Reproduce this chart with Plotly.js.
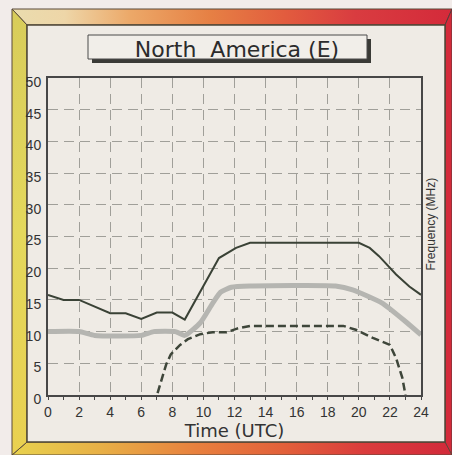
<!DOCTYPE html>
<html>
<head>
<meta charset="utf-8">
<script src="https://cdn.plot.ly/plotly-3.0.1.min.js"></script>
<style>
  html, body { margin: 0; padding: 0; background: #f2ecea; }
  #wrap { position: relative; width: 452px; height: 455px; overflow: hidden; }
  #frame { position: absolute; left: 0; top: 0; }
  #chart { position: absolute; left: 0; top: 0; width: 452px; height: 455px; }
</style>
</head>
<body>
<div id="wrap">
<svg id="frame" width="452" height="455" xmlns="http://www.w3.org/2000/svg">
  <defs>
    <linearGradient id="gTop" x1="0" x2="1" y1="0" y2="0">
      <stop offset="0" stop-color="#eadcae"/>
      <stop offset="0.12" stop-color="#eed6a8"/>
      <stop offset="0.27" stop-color="#eca868"/>
      <stop offset="0.45" stop-color="#e68044"/>
      <stop offset="0.62" stop-color="#e25c3e"/>
      <stop offset="0.78" stop-color="#d93c40"/>
      <stop offset="1" stop-color="#d42a3a"/>
    </linearGradient>
    <linearGradient id="gBottom" x1="0" x2="1" y1="0" y2="0">
      <stop offset="0" stop-color="#e8d24e"/>
      <stop offset="0.2" stop-color="#e8b046"/>
      <stop offset="0.42" stop-color="#e8803e"/>
      <stop offset="0.62" stop-color="#e2603a"/>
      <stop offset="0.8" stop-color="#da3c3c"/>
      <stop offset="1" stop-color="#d22a3a"/>
    </linearGradient>
    <linearGradient id="gLeft" x1="0" x2="0" y1="0" y2="1">
      <stop offset="0" stop-color="#d8cc5a"/>
      <stop offset="0.5" stop-color="#e4d85c"/>
      <stop offset="1" stop-color="#e9d050"/>
    </linearGradient>
  </defs>
  <rect x="0" y="0" width="452" height="455" fill="#f2ecea"/>
  <polygon points="12,9 452,9 445,25 27,25" fill="url(#gTop)" stroke="#5a4a3a" stroke-width="1"/>
  <polygon points="452,9 452,460 445,442 445,25" fill="#d42a3a" stroke="#5a3a3a" stroke-width="1"/>
  <polygon points="12,455 27,442 445,442 452,455" fill="url(#gBottom)" stroke="#5a4a3a" stroke-width="1"/>
  <polygon points="12,9 27,25 27,442 12,455" fill="url(#gLeft)" stroke="#5a4a3a" stroke-width="1"/>
  <rect x="27" y="25" width="418" height="417" fill="#efebe5" stroke="#4d4636" stroke-width="1.5"/>
</svg>
<div id="chart"></div>
</div>
<script>
// ---- data ----
const xTicks = [0, 2, 4, 6, 8, 10, 12, 14, 16, 18, 20, 22, 24];
const yTicks = [0, 5, 10, 15, 20, 25, 30, 35, 40, 45, 50];

// upper solid line
const upperTime = [0, 1, 2, 4, 5, 6, 7, 8, 8.8, 11, 12.1, 13, 20, 20.7, 21.3, 22.4, 23.25, 24];
const upperFreq = [15.8, 15, 15, 12.9, 12.9, 12, 13, 13, 11.9, 21.6, 23.2, 24, 24, 23.2, 21.9, 19, 17.1, 15.8];

// middle thick grey line
const middleTime = [0, 2, 3, 6, 6.8, 8.2, 8.8, 9.8, 10.6, 11.1, 11.8, 13, 18.5, 19.6, 21.5, 23, 24];
const middleFreq = [10, 10, 9.4, 9.4, 10, 10, 9.4, 11.4, 14.5, 16.2, 17.0, 17.2, 17.2, 16.6, 14.5, 11.6, 9.5];

// lower dashed line
const lowerTime = [7.05, 7.6, 7.9, 8.5, 9.0, 9.8, 10.6, 11.5, 12.2, 13, 19, 19.8, 20.9, 22, 22.4, 22.8, 23];
const lowerFreq = [0.3, 4.8, 6.4, 7.9, 8.8, 9.6, 9.9, 9.9, 10.5, 10.9, 10.9, 10.3, 9.0, 7.9, 5.8, 2.7, 0];

const titleText = 'North\u00a0 America (E)';
const xTitle = 'Time (UTC)';
const yTitle = 'Frequency (MHz)';

// ---- geometry (pixels) ----
const W = 452, H = 455;
const PL = 48, PR = 421, PT = 78, PB = 395;
const pw = PR - PL, ph = PB - PT;
const px = v => (v - PL) / pw;
const py = v => (PB - v) / ph;

const traces = [
  { x: middleTime, y: middleFreq, mode: 'lines', type: 'scatter',
    line: { color: '#b5b5b1', width: 5, shape: 'spline', smoothing: 0.5 }, hoverinfo: 'skip' },
  { x: upperTime, y: upperFreq, mode: 'lines', type: 'scatter',
    line: { color: '#3a4236', width: 2 }, hoverinfo: 'skip' },
  { x: lowerTime, y: lowerFreq, mode: 'lines', type: 'scatter',
    line: { color: '#3e463a', width: 2.5, dash: '8px,4px' }, hoverinfo: 'skip' }
];

const axisCommon = {
  showgrid: true, gridcolor: '#a09f99', gridwidth: 1, griddash: '10px,6px',
  showline: true, mirror: true, linecolor: '#474747', linewidth: 2,
  zeroline: false, fixedrange: true,
  tickfont: { family: 'Liberation Sans, Arial, sans-serif', size: 14, color: '#333333' }
};

const layout = {
  width: W, height: H,
  margin: { l: PL, r: W - PR, t: PT, b: H - PB, pad: 0 },
  paper_bgcolor: 'rgba(0,0,0,0)',
  plot_bgcolor: '#efebe5',
  showlegend: false,
  title: {
    text: titleText, xref: 'container', yref: 'container',
    x: 237 / W, y: 1 - 49 / H, xanchor: 'center', yanchor: 'middle',
    font: { family: 'DejaVu Sans, sans-serif', size: 22, color: '#2b2b2b' }
  },
  xaxis: Object.assign({}, axisCommon, {
    range: [0, 24], tickvals: xTicks, ticktext: xTicks.map(String),
    ticks: 'outside', ticklen: 3, tickcolor: '#474747', tickwidth: 1,
    minor: { dtick: 1, tick0: 0, ticks: 'outside', ticklen: 3, tickcolor: '#474747', showgrid: false },
    title: { text: xTitle, standoff: 6,
      font: { family: 'DejaVu Sans, sans-serif', size: 18, color: '#333333' } }
  }),
  yaxis: Object.assign({}, axisCommon, {
    range: [0, 50], tickvals: yTicks, ticktext: yTicks.map(String),
    ticks: '', ticklabelstandoff: 2, ticklabelshift: 4
  }),
  shapes: [
    { type: 'rect', xref: 'paper', yref: 'paper', layer: 'below',
      x0: px(92), x1: px(371), y0: py(63), y1: py(39),
      fillcolor: '#3a3a36', line: { width: 0 } },
    { type: 'rect', xref: 'paper', yref: 'paper', layer: 'below',
      x0: px(88), x1: px(367), y0: py(59), y1: py(35),
      fillcolor: '#f1eee9', line: { color: '#4a4a4a', width: 1 } }
  ],
  annotations: [
    { text: yTitle, xref: 'paper', yref: 'paper', x: px(430), y: py(224.5),
      xanchor: 'center', yanchor: 'middle', textangle: -90, showarrow: false,
      font: { family: 'Liberation Sans, Arial, sans-serif', size: 12, color: '#333333' } }
  ]
};

Plotly.newPlot('chart', traces, layout, { staticPlot: true, displayModeBar: false });
</script>
</body>
</html>
